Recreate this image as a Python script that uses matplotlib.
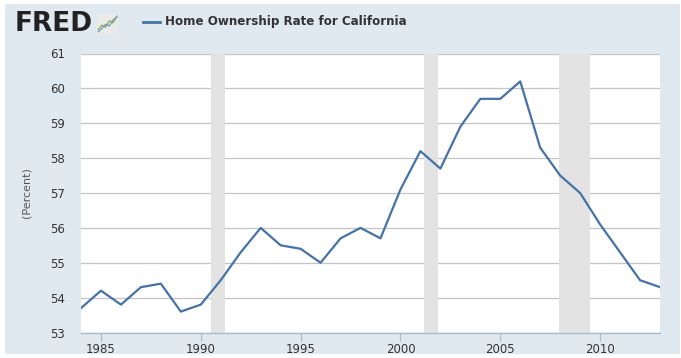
import matplotlib
matplotlib.use('Agg')
import matplotlib.pyplot as plt
from matplotlib.patches import Rectangle

# data
years = list(range(1984, 2014))
rate = [53.7, 54.2, 53.8, 54.3, 54.4, 53.6, 53.8, 54.5, 55.3, 56.0,
        55.5, 55.4, 55.0, 55.7, 56.0, 55.7, 57.1, 58.2, 57.7, 58.9,
        59.7, 59.7, 60.2, 58.3, 57.5, 57.0, 56.1, 55.3, 54.5, 54.3]
rec_start = [1990.5, 2001.17, 2007.92]
rec_end = [1991.2, 2001.88, 2009.47]
xticks = [1985, 1990, 1995, 2000, 2005, 2010]
yticks = [53, 54, 55, 56, 57, 58, 59, 60, 61]
series_name = 'Home Ownership Rate for California'

bg = '#e1e9f0'
line_col = '#4572a7'
txt = '#333333'

fig = plt.figure(figsize=(6.81, 3.58), dpi=100)
fig.patch.set_facecolor('white')
fig.patches.append(Rectangle((5 / 681, 4 / 358), 675 / 681, 350 / 358,
                             transform=fig.transFigure, facecolor=bg,
                             edgecolor='none', zorder=-10))

ax = fig.add_axes([81 / 681, 25.5 / 358, 579 / 681, 279 / 358])
ax.set_facecolor('white')

for s, e in zip(rec_start, rec_end):
    ax.axvspan(s, e, color='#e3e3e3', lw=0, zorder=1)

ax.plot(years, rate, color=line_col, lw=1.6, zorder=3)

ax.set_xlim(1984, 2013)
ax.set_ylim(53, 61)
ax.set_xticks(xticks)
ax.set_yticks(yticks)
ax.grid(axis='y', color='#c4c4c4', lw=0.9, zorder=0)
ax.set_axisbelow(True)
for sp in ['top', 'right', 'left']:
    ax.spines[sp].set_visible(False)
ax.spines['bottom'].set_color('#aabbcc')
ax.spines['bottom'].set_linewidth(1.0)
ax.tick_params(axis='x', colors='#aabbcc', length=6, width=0.9,
               labelcolor=txt, labelsize=8.5, pad=1.5)
ax.tick_params(axis='y', length=0, labelcolor=txt, labelsize=8.5, pad=11.5)
ax.set_ylabel('(Percent)', color='#555555', fontsize=8, labelpad=13)

# header: FRED logo and legend
fig.text(15 / 681, 1 - 24 / 358, 'FRED', fontsize=19, fontweight='heavy',
         color='#222222', va='center', ha='left')
icon = fig.add_axes([97 / 681, 1 - 34 / 358, 21 / 681, 20 / 358])
icon.set_facecolor('#e9e9e9')
icon.plot([0, 1, 2, 3, 4, 5], [1, 2, 1.5, 3, 2.5, 4], color='#7aaa3a', lw=0.8)
icon.plot([0, 1, 2, 3, 4, 5], [0.5, 1.2, 2.2, 1.8, 3.2, 3.8], color='#6a8fc0', lw=0.8)
icon.set_xlim(-0.3, 5.3)
icon.set_ylim(0, 4.5)
icon.set_xticks([])
icon.set_yticks([])
for sp in icon.spines.values():
    sp.set_visible(False)

fig.lines.append(plt.Line2D([143 / 681, 160 / 681], [1 - 22 / 358, 1 - 22 / 358],
                            transform=fig.transFigure, color=line_col, lw=2))
fig.text(165 / 681, 1 - 22 / 358, series_name, fontsize=8.6, fontweight='bold',
         color=txt, va='center', ha='left')

fig.savefig('out.png', dpi=100, facecolor=fig.get_facecolor())
